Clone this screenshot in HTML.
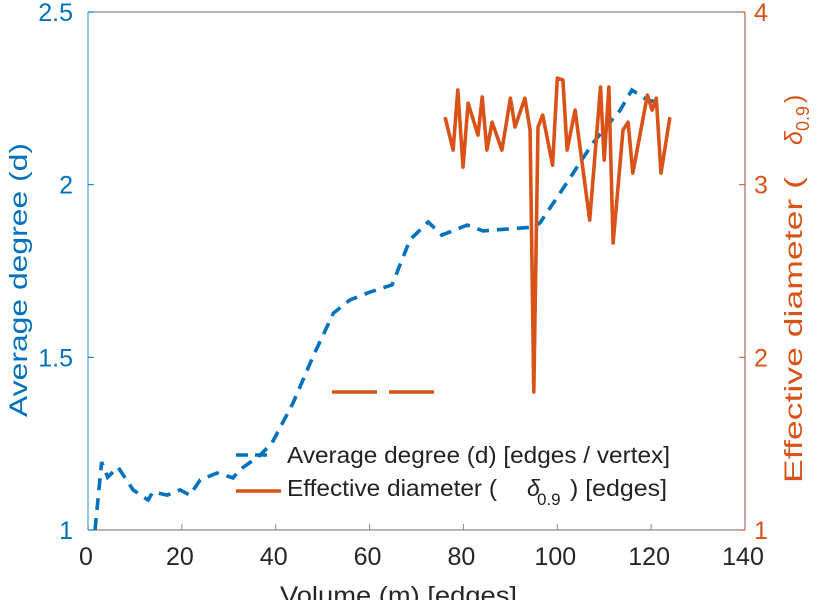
<!DOCTYPE html>
<html><head><meta charset="utf-8"><style>
html,body{margin:0;padding:0;background:#fff;}
svg{display:block;font-family:"Liberation Sans",sans-serif;}
</style></head><body>
<svg id="chart" width="821" height="600" viewBox="0 0 821 600">
<g id="axes"></g>
<g id="series"></g>
<g id="legend">
  <line x1="332" y1="392" x2="435" y2="392" stroke="#D95319" stroke-width="3.4" stroke-dasharray="45,12"/>
  <line x1="236" y1="455" x2="274" y2="455" stroke="#0072BD" stroke-width="3.4" stroke-dasharray="12,7"/>
  <text x="287" y="463" font-size="23" fill="#222" textLength="383" lengthAdjust="spacingAndGlyphs">Average degree (d) [edges / vertex]</text>
  <line x1="236" y1="491" x2="281" y2="491" stroke="#D95319" stroke-width="3.4"/>
  <text y="496" font-size="23" fill="#222"><tspan x="287" textLength="210" lengthAdjust="spacingAndGlyphs">Effective diameter (</tspan><tspan x="527" font-style="italic">δ</tspan><tspan x="537" y="505" font-size="17">0.9</tspan><tspan x="570" y="496" textLength="97" lengthAdjust="spacingAndGlyphs">) [edges]</tspan></text>
</g>
</svg>
<script>
const xTicks=[0,20,40,60,80,100,120,140];
const leftTicks=[1,1.5,2,2.5];
const leftTickLabels=["1","1.5","2","2.5"];
const rightTicks=[1,2,3,4];
const degX=[1.5,2.9,4.2,6.4,9.6,12.8,13.8,16.9,19.6,21.7,23.9,27.5,30.9,32.3,36.7,39.2,43.7,47.9,52.3,55.8,60.1,64.8,68.6,72.5,75.4,80.8,84.2,94.8,96.3,100.6,107.6,113.4,115.9,119.2,122.3];
const degY=[1.0,1.197,1.153,1.182,1.116,1.087,1.110,1.101,1.116,1.101,1.145,1.165,1.151,1.174,1.217,1.252,1.368,1.501,1.628,1.666,1.689,1.710,1.840,1.892,1.854,1.883,1.866,1.877,1.889,1.976,2.121,2.216,2.274,2.245,2.237];
const diamX=[76.1,77.8,78.8,79.9,81.0,83.1,84.0,85.0,86.1,88.2,90.0,91.0,93.1,94.2,95.0,95.9,96.9,99.0,100.0,101.2,102.1,103.8,106.9,109.2,110.0,111.0,111.9,114.0,115.1,116.1,119.2,120.2,121.1,122.1,124.0];
const diamY=[3.391,3.200,3.548,3.102,3.472,3.287,3.507,3.200,3.362,3.200,3.501,3.334,3.501,3.316,1.799,3.334,3.403,3.113,3.617,3.606,3.200,3.432,2.795,3.565,3.142,3.565,2.662,3.316,3.362,3.067,3.519,3.432,3.501,3.067,3.391];

const X0=88,X1=745,Y0=530,Y1=12;
const sx=v=>X0+(v-0)/(140-0)*(X1-X0);
const syL=v=>Y0-(v-1)/(2.5-1)*(Y0-Y1);
const syR=v=>Y0-(v-1)/(4-1)*(Y0-Y1);
const NS="http://www.w3.org/2000/svg";
const axes=document.getElementById('axes');
const series=document.getElementById('series');
function mk(tag,attrs,parent){const e=document.createElementNS(NS,tag);for(const k in attrs)e.setAttribute(k,attrs[k]);parent.appendChild(e);return e;}
const BLUE="#0072BD",ORG="#D95319",GRAY="#262626";

let e;
e=mk('line',{x1:X0,y1:Y1,x2:X1,y2:Y1,stroke:"#8a8a8a","stroke-width":1.3},axes);


e=mk('line',{x1:X0,y1:Y0,x2:X1,y2:Y0,stroke:"#8a8a8a","stroke-width":1.3},axes);


e=mk('line',{x1:X0,y1:Y1,x2:X0,y2:Y0,stroke:"#5aa7dc","stroke-width":1.3},axes);


e=mk('line',{x1:X1,y1:Y1,x2:X1,y2:Y0,stroke:"#a8766a","stroke-width":1.3},axes);



xTicks.forEach(t=>{
  const x=sx(t);
  let l=mk('line',{x1:x,y1:Y0,x2:x,y2:Y0-6,stroke:"#8a8a8a","stroke-width":1},axes);
  
  
  let tx=mk('text',{x:x-2,y:Y0+35,"font-size":25,fill:GRAY,"text-anchor":"middle"},axes);
  tx.textContent=String(t);
  
  
});
leftTicks.forEach((t,i)=>{
  const y=syL(t);
  let l=mk('line',{x1:X0,y1:y,x2:X0+6,y2:y,stroke:BLUE,"stroke-width":1},axes);
  
  
  let tx=mk('text',{x:X0-15,y:y+9,"font-size":25,fill:BLUE,"text-anchor":"end"},axes);
  tx.textContent=leftTickLabels[i];
  
  
});
rightTicks.forEach(t=>{
  const y=syR(t);
  let l=mk('line',{x1:X1,y1:y,x2:X1-6,y2:y,stroke:ORG,"stroke-width":1},axes);
  
  
  let tx=mk('text',{x:X1+9,y:y+9,"font-size":25,fill:ORG,"text-anchor":"start"},axes);
  tx.textContent=String(t);
  
  
});
e=mk('text',{x:280,y:604,"font-size":25,fill:GRAY,textLength:237,lengthAdjust:"spacingAndGlyphs"},axes);
e.textContent="Volume (m) [edges]";


e=mk('text',{x:0,y:0,"font-size":25,fill:BLUE,textLength:274,lengthAdjust:"spacingAndGlyphs",transform:"translate(27,417) rotate(-90)"},axes);
e.textContent="Average degree (d)";


e=mk('text',{x:0,y:0,"font-size":25,fill:ORG,transform:"translate(802,483) rotate(-90)"},axes);
e.innerHTML='<tspan x="0" textLength="306" lengthAdjust="spacingAndGlyphs">Effective diameter (</tspan><tspan x="338" font-style="italic">δ</tspan><tspan x="352" y="7" font-size="18">0.9</tspan><tspan x="380" y="0">)</tspan>';



const degPts=degX.map((x,i)=>sx(x).toFixed(1)+","+syL(degY[i]).toFixed(1)).join(" ");
e=mk('polyline',{points:degPts,fill:"none",stroke:BLUE,"stroke-width":3.6,"stroke-dasharray":"12,8"},series);


const diamPts=diamX.map((x,i)=>sx(x).toFixed(1)+","+syR(diamY[i]).toFixed(1)).join(" ");
e=mk('polyline',{points:diamPts,fill:"none",stroke:ORG,"stroke-width":3.6,"stroke-linejoin":"round"},series);


</script>
</body></html>
